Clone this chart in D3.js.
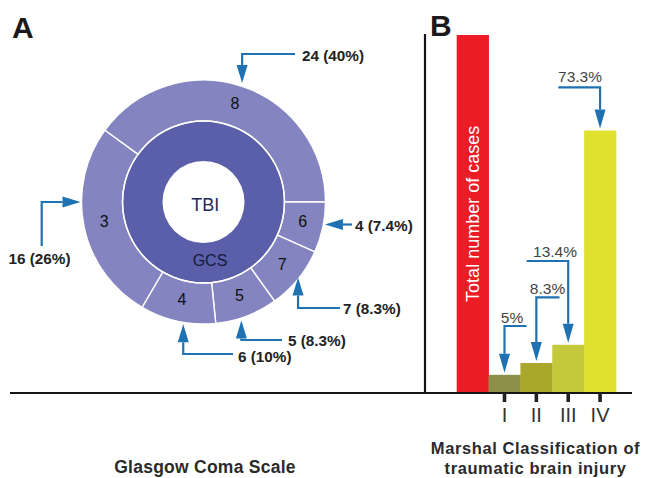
<!DOCTYPE html>
<html>
<head>
<meta charset="utf-8">
<script src="https://cdn.jsdelivr.net/npm/d3@7/dist/d3.min.js"></script>
<style>
  html, body { margin: 0; padding: 0; background: #fff; }
  svg { display: block; font-family: "Liberation Sans", Arial, Helvetica, sans-serif; }
</style>
</head>
<body>
<svg id="chart" width="646" height="478"></svg>
<script>
// ---------- DATA ----------
// Panel A: Glasgow Coma Scale (outer ring segments, clockwise)
const gcsScores   = ["8", "6", "7", "5", "4", "3"];
const gcsShare    = [40, 6.7, 8.4, 8.3, 10, 26.6];          // arc share
const gcsCallouts = ["24 (40%)", "4 (7.4%)", "7 (8.3%)", "5 (8.3%)", "6 (10%)", "16 (26%)"];

// Panel B: Marshal classification
const marshalCategories = ["Total", "I", "II", "III", "IV"];
const marshalValues     = [100, 5, 8.3, 13.4, 73.3];
const marshalPctLabels  = [null, "5%", "8.3%", "13.4%", "73.3%"];
const marshalTickLabels = ["I", "II", "III", "IV"];

// ---------- STYLE / LAYOUT ----------
const C = {
  outer: "#8384c0", inner: "#5b5fa9", arrow: "#1f72b2",
  axis: "#151515", text: "#111", pct: "#444",
  bars: ["#ec1c24", "#8a9047", "#a9a82b", "#c3c93b", "#e0e02f"]
};
const svg = d3.select("#chart");
const deg = Math.PI / 180;

function drawArrow(g, pts, tip, headLen = 18, headW = 5.5) {
  const last = pts[pts.length - 1];
  const dx = tip[0] - last[0], dy = tip[1] - last[1];
  const L = Math.hypot(dx, dy), ux = dx / L, uy = dy / L;
  const base = [tip[0] - ux * headLen, tip[1] - uy * headLen];
  g.append("path")
    .attr("d", d3.line()([...pts, base]))
    .attr("fill", "none").attr("stroke", C.arrow).attr("stroke-width", 2.2);
  g.append("path")
    .attr("d", d3.line()([
      tip,
      [base[0] - uy * headW, base[1] + ux * headW],
      [base[0] + uy * headW, base[1] - ux * headW]
    ]) + "Z")
    .attr("fill", C.arrow);
}

// ---------- PANEL A ----------
const cx = 203.5, cy = 202, rHole = 41, rMid = 81, rOut = 122;
const gA = svg.append("g").attr("transform", `translate(${cx},${cy})`);

const pie = d3.pie().sort(null).value(d => d.v)
  .startAngle(-54 * deg).endAngle(306 * deg);
const arcsData = pie(gcsScores.map((s, i) => ({ s, v: gcsShare[i], lab: gcsCallouts[i] })));
const outerArc = d3.arc().innerRadius(rMid).outerRadius(rOut);
const labelArc = d3.arc().innerRadius(101.5).outerRadius(101.5);

gA.append("path")
  .attr("d", d3.arc().innerRadius(rHole).outerRadius(rMid).startAngle(0).endAngle(2 * Math.PI)())
  .attr("fill", C.inner);

gA.selectAll("path.seg").data(arcsData).join("path")
  .attr("class", "seg")
  .attr("d", outerArc)
  .attr("fill", C.outer)
  .attr("stroke", "#fff").attr("stroke-width", 1.4);

gA.append("circle").attr("r", rMid).attr("fill", "none")
  .attr("stroke", "#fff").attr("stroke-width", 1.4);

gA.selectAll("text.seg").data(arcsData).join("text")
  .attr("class", "seg")
  .attr("x", d => labelArc.centroid(d)[0])
  .attr("y", d => labelArc.centroid(d)[1] - 2)
  .attr("dy", "0.36em")
  .attr("text-anchor", "middle")
  .attr("font-size", 16).attr("fill", C.text)
  .text(d => d.data.s);

gA.append("text").attr("x", 1.8).attr("y", 210.7 - cy)
  .attr("text-anchor", "middle").attr("font-size", 18).attr("fill", "#1f2a5c").text("TBI");
gA.append("text").attr("x", 6.5).attr("y", 266 - cy)
  .attr("text-anchor", "middle").attr("font-size", 16).attr("fill", "#161a3a").text("GCS");

// callout layout (annotation positions)
const calloutLayout = [
  { ang: 18,    r: 125,   mode: "v", elbow: 54,  start: 295, lx: 302,  ly: 55,  anchor: "start" },
  { ang: 100.5, r: 123.5, mode: "s", start: 352,             lx: 355,  ly: 225, anchor: "start" },
  { ang: 128.6, r: 121,   mode: "v", elbow: 308, start: 340, lx: 343,  ly: 308, anchor: "start" },
  { ang: 162.3, r: 124.5, mode: "v", elbow: 340, start: 282, lx: 288,  ly: 340, anchor: "start" },
  { ang: 189.4, r: 124,   mode: "v", elbow: 354, start: 233, lx: 238,  ly: 356, anchor: "start" },
  { ang: 270,   r: 123,   mode: "h", elbow: 41.7, start: 246, lx: 39.5, ly: 258, anchor: "middle" }
];
const gCall = svg.append("g");
arcsData.forEach((d, i) => {
  const L = calloutLayout[i];
  const tip = [cx + L.r * Math.sin(L.ang * deg), cy - L.r * Math.cos(L.ang * deg)];
  let pts;
  if (L.mode === "v") pts = [[L.start, L.elbow], [tip[0], L.elbow]];
  else if (L.mode === "h") pts = [[L.elbow, L.start], [L.elbow, tip[1]]];
  else pts = [[L.start, tip[1]]];
  drawArrow(gCall, pts, tip);
  gCall.append("text").attr("x", L.lx).attr("y", L.ly).attr("dy", "0.36em")
    .attr("text-anchor", L.anchor).attr("font-size", 15.3).attr("font-weight", "bold")
    .attr("fill", "#222").text(d.data.lab);
});

// ---------- PANEL B ----------
const x = d3.scaleBand().domain(marshalCategories).range([456.7, 616]).padding(0);
const y = d3.scaleLinear().domain([0, 100]).range([392.7, 35]);

svg.append("g").selectAll("rect").data(marshalCategories).join("rect")
  .attr("x", d => x(d)).attr("width", x.bandwidth() + 0.4)
  .attr("y", (d, i) => y(marshalValues[i]))
  .attr("height", (d, i) => y(0) - y(marshalValues[i]))
  .attr("fill", (d, i) => C.bars[i]);

const xc0 = x("Total") + x.bandwidth() / 2;
svg.append("text")
  .attr("transform", `translate(${xc0 + 6.8},${(y(100) + y(0)) / 2}) rotate(-90)`)
  .attr("text-anchor", "middle").attr("font-size", 18).attr("fill", "#fff")
  .text("Total number of cases");

// axes lines
svg.append("line").attr("x1", 10).attr("x2", 632).attr("y1", 393).attr("y2", 393)
  .attr("stroke", C.axis).attr("stroke-width", 2.2);
svg.append("line").attr("x1", 425).attr("x2", 425).attr("y1", 34).attr("y2", 393)
  .attr("stroke", C.axis).attr("stroke-width", 2.2);

const xAxis = d3.axisBottom(x).tickValues(marshalTickLabels).tickSize(9).tickPadding(5.5);
const gX = svg.append("g").attr("transform", "translate(0,393)").call(xAxis);
gX.select(".domain").remove();
gX.selectAll(".tick line").attr("stroke", "#222").attr("stroke-width", 3.6);
gX.selectAll(".tick text").attr("font-size", 20).attr("fill", "#333")
  .attr("font-family", "'Liberation Sans', Arial, sans-serif");

// percentage callouts
const pctLayout = [
  null,
  { elbow: 326,   start: 526.5, lx: 512,   ly: 323 },
  { elbow: 297.3, start: 559.5, lx: 547.5, ly: 293.5 },
  { elbow: 261,   start: 526.7, lx: 555,   ly: 257 },
  { elbow: 87.3,  start: 558.3, lx: 580,   ly: 82 }
];
const gP = svg.append("g");
marshalCategories.forEach((c, i) => {
  if (!marshalPctLabels[i]) return;
  const L = pctLayout[i];
  const xc = x(c) + x.bandwidth() / 2;
  const tip = [xc, y(marshalValues[i]) - 2];
  drawArrow(gP, [[L.start, L.elbow], [xc, L.elbow]], tip, 19, 5.5);
  gP.append("text").attr("x", L.lx).attr("y", L.ly).attr("text-anchor", "middle")
    .attr("font-size", 15.5).attr("fill", C.pct).text(marshalPctLabels[i]);
});

// ---------- TITLES ----------
svg.append("text").attr("x", 12).attr("y", 37.5).attr("font-size", 30)
  .attr("font-weight", "bold").attr("fill", "#1a1a1a").text("A");
svg.append("text").attr("x", 430).attr("y", 36).attr("font-size", 30)
  .attr("font-weight", "bold").attr("fill", "#1a1a1a").text("B");

svg.append("text").attr("x", 205).attr("y", 473).attr("text-anchor", "middle")
  .attr("font-size", 17.5).attr("font-weight", "bold").attr("letter-spacing", 0.25)
  .attr("fill", "#2a2a2a").text("Glasgow Coma Scale");
const tB = svg.append("text").attr("text-anchor", "middle")
  .attr("font-size", 16.5).attr("font-weight", "bold").attr("letter-spacing", 0.6)
  .attr("fill", "#2a2a2a");
tB.append("tspan").attr("x", 535.5).attr("y", 454).text("Marshal Classification of");
tB.append("tspan").attr("x", 535.5).attr("y", 474).text("traumatic brain injury");
</script>
</body>
</html>
